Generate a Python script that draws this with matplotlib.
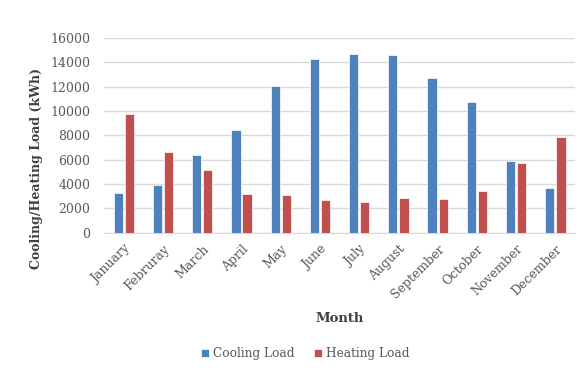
import matplotlib.pyplot as plt
import numpy as np

months = ['January', 'Februray', 'March', 'April', 'May', 'June', 'July',
          'August', 'September', 'October', 'November', 'December']
cooling = [3250, 3900, 6400, 8480, 12050, 14250, 14650, 14600, 12700, 10720, 5920, 3700]
heating = [9800, 6650, 5150, 3230, 3100, 2680, 2550, 2850, 2800, 3400, 5700, 7880]

plt.rcParams['font.family'] = ['DejaVu Serif']

fig = plt.figure(figsize=(5.85, 3.69), dpi=100)
ax = fig.add_axes([0.178, 0.369, 0.805, 0.528])

x = np.arange(len(months))
w = 0.235
ax.bar(x - w / 2 - 0.025, cooling, w, color='#4F81BD', edgecolor='white', linewidth=0.5,
       label='Cooling Load', zorder=3)
ax.bar(x + w / 2 + 0.025, heating, w, color='#C0504D', edgecolor='white', linewidth=0.5,
       label='Heating Load', zorder=3)

ax.set_ylim(0, 16000)
ax.set_xlim(-0.5, 11.5)
ax.set_yticks(range(0, 16001, 2000))
ax.set_xticks(x)
ax.set_xticklabels(months, rotation=45, ha='right', rotation_mode='anchor')
ax.tick_params(axis='both', length=0, labelsize=9, colors='#595959')
ax.tick_params(axis='y', pad=10)
ax.tick_params(axis='x', pad=7)
ax.grid(axis='y', color='#D9D9D9', linewidth=1, zorder=0)
for s in ['top', 'right', 'left']:
    ax.spines[s].set_visible(False)
ax.spines['bottom'].set_color('#D9D9D9')

# y label sits centred on the whole chart block, lower than the axes middle
fig.text(37 / 585, 1 - 168 / 369, 'Cooling/Heating Load (kWh)', rotation=90,
         ha='center', va='center', fontsize=9, fontweight='bold', color='#404040')
ax.set_xlabel('Month', fontsize=9.5, fontweight='bold', color='#404040', labelpad=8)

ax.legend(loc='center', bbox_to_anchor=(0.427, -0.62), ncol=2, frameon=False,
          fontsize=8.7, handlelength=0.7, handleheight=0.7, handletextpad=0.3,
          columnspacing=1.6, labelcolor='#595959')

fig.savefig('out.png', dpi=100)
